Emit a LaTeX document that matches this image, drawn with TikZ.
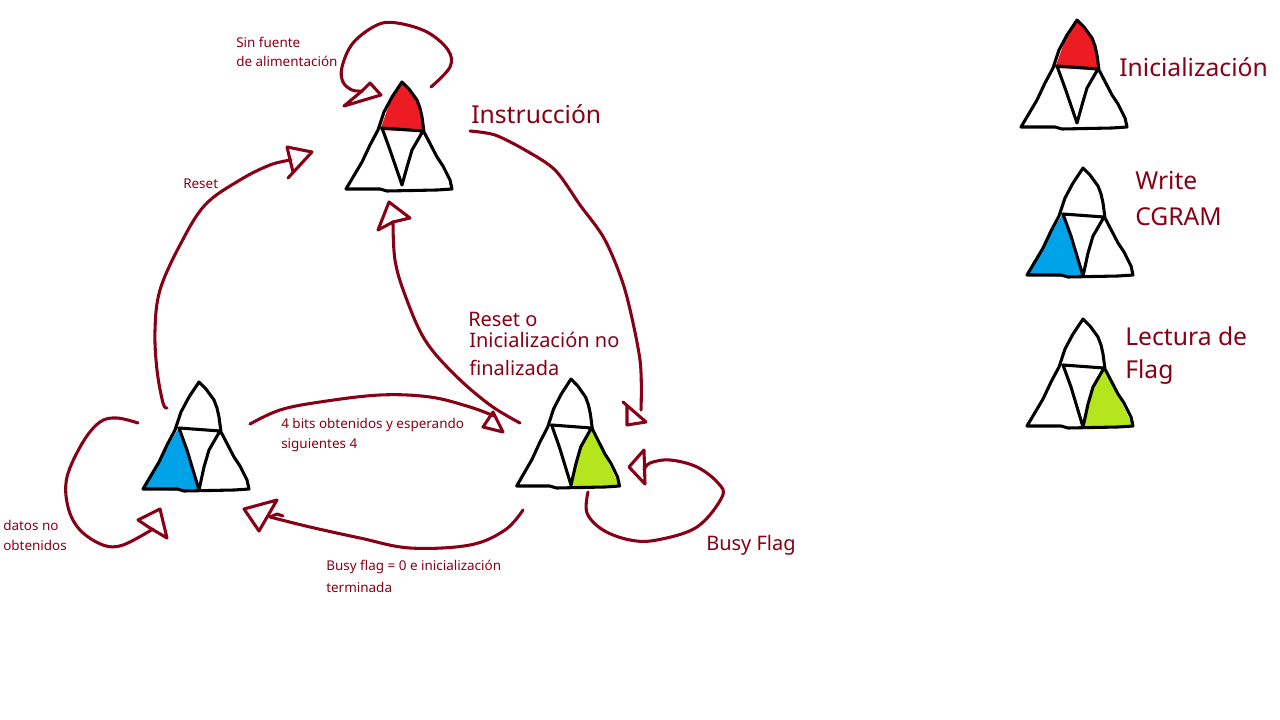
\documentclass[tikz,border=0pt]{standalone}
\usepackage{fontspec}
\setmainfont{Noto Sans}
\definecolor{ink}{HTML}{880015}
\definecolor{tfred}{HTML}{ED1C24}
\definecolor{tfblue}{HTML}{00A2E8}
\definecolor{tfgreen}{HTML}{B5E61D}
\tikzset{
  conn/.style={draw=ink,line width=2.3pt,line cap=round,line join=round},
  head/.style={draw=ink,line width=2.3pt,line cap=round,line join=round},
  small/.style={text=ink,anchor=west,inner sep=0pt,font=\fontsize{10.1}{11}\selectfont},
  big/.style={text=ink,anchor=west,inner sep=0pt,font=\fontsize{18.5}{20}\selectfont},
  mid/.style={text=ink,anchor=west,inner sep=0pt,font=\fontsize{15}{17}\selectfont},
  pics/triforce/.style n args={4}{code={
    \fill[#1] (0,0) -- (7,7) -- (15,18) -- (20,35) -- (22,50) -- (-22,48) -- (-10,15) -- cycle;
    \fill[#2] (-21,47) -- (-56,107) -- (-15,109) -- (0,108) -- (0,#4) -- (-12,68) -- cycle;
    \fill[#3] (22,50) -- (50,107) -- (35,108) -- (0,108) -- (0,#4) -- (10,68) -- cycle;
    \draw[black,line width=2.3pt,line join=round,line cap=round]
      (0,0) -- (7,7) -- (15,18) -- (18,26) -- (20,35) -- (22,50) -- (35,75) -- (41,84) -- (48,98) -- (50,107)
      -- (35,108) -- (-15,109) -- (-22,107) -- (-56,107) -- (-40,80) -- (-32,63) -- (-24,48) -- (-18,30) -- (-10,15) -- cycle
      (-20,46) -- (21,49)
      (-20,46) -- (-12,68) -- (0,#4) -- (5,85) -- (10,68) -- (21,49);
  }}
}
\begin{document}
\begin{tikzpicture}[x=0.75pt,y=-0.75pt]
\useasboundingbox (0,0) rectangle (1280,720);
% triforces
\pic at (402,82) {triforce={tfred}{white}{white}{103}};
\pic at (199,382) {triforce={white}{tfblue}{white}{108}};
\pic[xscale=0.97] at (571,379) {triforce={white}{white}{tfgreen}{106}};
\pic at (1077,20) {triforce={tfred}{white}{white}{103}};
\pic at (1083,168) {triforce={white}{tfblue}{white}{108}};
\pic at (1083,319) {triforce={white}{white}{tfgreen}{108}};
% connector ends
\coordinate (loopAs) at (431,87);
\coordinate (loopAe) at (362,91);
\coordinate (resetS) at (167,408);
\coordinate (resetE) at (291,160);
\coordinate (instS) at (470,131);
\coordinate (instE) at (641,410);
\coordinate (rstS) at (520,423);
\coordinate (rstE) at (393,222);
\coordinate (bitsS) at (250,424);
\coordinate (bitsE) at (494,416);
\coordinate (loopBs) at (138,423);
\coordinate (loopBe) at (153,529);
\coordinate (flagS) at (523,510);
\coordinate (flagE) at (270,517);
\coordinate (loopCs) at (588,492);
\coordinate (loopCe) at (644,470);
% connectors
\draw[conn] plot[smooth,tension=0.6] coordinates {(loopAs) (450,67) (448,50) (427,32) (397,23) (377,25) (353,43) (342,67) (343,82) (352,90) (loopAe)};
\draw[head] (loopAe) -- (370,83) -- (381,95) -- (344,106) -- (loopAe);
\draw[conn] plot[smooth,tension=0.6] coordinates {(resetS) (163,403) (157,370) (155,330) (160,290) (180,245) (205,205) (240,180) (270,165) (resetE)};
\draw[head] (287,147) -- (312,152) -- (288,178) (287,147) -- (293,172);
\draw[conn] plot[smooth,tension=0.5] coordinates {(instS) (495,135) (525,150) (555,170) (580,205) (605,240) (625,290) (640,360) (instE)};
\draw[head] (623,402) -- (646,422) -- (627,425) -- (627,405);
\draw[conn] plot[smooth,tension=0.6] coordinates {(rstS) (490,405) (455,375) (425,340) (405,295) (395,260) (rstE)};
\draw[head] (393,222) -- (378,230) -- (389,202) -- (410,218) -- cycle;
\draw[conn] plot[smooth,tension=0.6] coordinates {(bitsS) (280,410) (320,402) (380,395) (430,397) (470,407) (bitsE)};
\draw[head] (493,412) -- (483,427) -- (503,432) -- cycle;
\draw[conn] plot[smooth,tension=0.6] coordinates {(loopBs) (117,418) (100,422) (83,442) (67,477) (68,507) (80,530) (103,545) (123,545) (loopBe)};
\draw[head] (150,528) -- (138,520) -- (160,509) -- (167,538) -- cycle;
\draw[conn] plot[smooth,tension=0.6] coordinates {(flagS) (505,530) (470,545) (410,548) (360,538) (310,527) (flagE)};
\draw[conn] (flagE) -- (277,514) -- (283,516);
\draw[head] (244,509) -- (277,500) -- (259,531) -- cycle;
\draw[conn] plot[smooth,tension=0.6] coordinates {(loopCs) (587,513) (603,530) (630,540) (657,540) (697,527) (722,497) (718,483) (697,467) (670,460) (650,463) (loopCe)};
\draw[head] (644,450) -- (629,467) -- (645,484) -- cycle;
% labels
\node[small] (l1) at (236,42) {Sin fuente};
\node[small] (l2) at (236,61.5) {de alimentación};
\node[small] (l3) at (183,184) {Reset};
\node[small] (l4) at (281,425) {4 bits obtenidos y esperando};
\node[small] (l5) at (281,445) {siguientes 4};
\node[small] (l6) at (3,525) {datos no};
\node[small] (l7) at (3,545) {obtenidos};
\node[small] (l8) at (326,567) {Busy flag = 0 e inicialización};
\node[small] (l9) at (326,587) {terminada};
\node[mid] (l10) at (706,545) {Busy Flag};
\node[big] (l11) at (471,114) {Instrucción};
\node[mid] (l12) at (468,319) {Reset o};
\node[mid] (l13) at (469,340) {Inicialización no};
\node[mid] (l14) at (469,368) {finalizada};
\node[big] (l15) at (1119,67) {Inicialización};
\node[big] (l16) at (1135,181) {Write};
\node[big] (l17) at (1135,217) {CGRAM};
\node[big] (l18) at (1125,336) {Lectura de};
\node[big] (l19) at (1125,372) {Flag};
\end{tikzpicture}
\end{document}
